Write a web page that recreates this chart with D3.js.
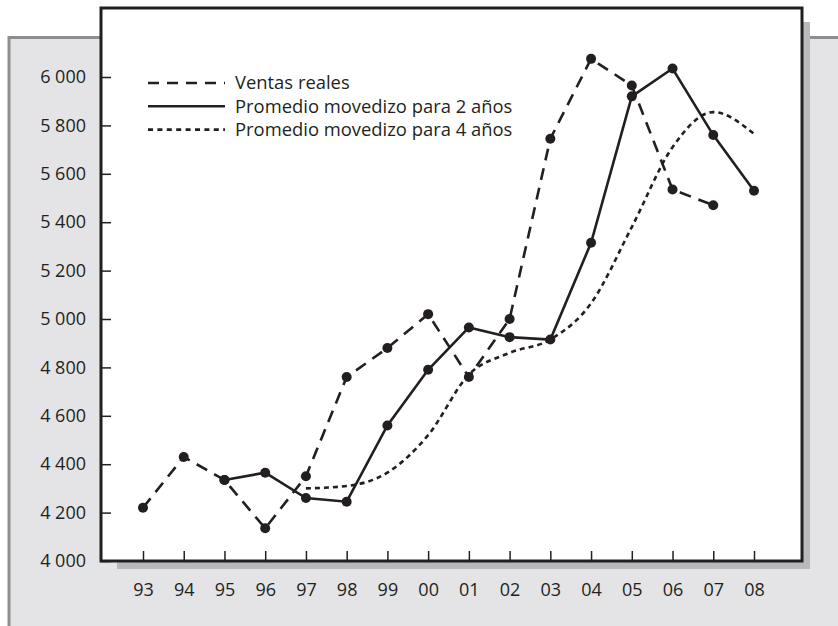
<!DOCTYPE html>
<html lang="es">
  <head>
    <meta charset="UTF-8" />
    <title>Ventas reales y promedios movedizos</title>
    <style>
      body {
        margin: 0;
        background: #ffffff;
      }
      svg text {
        font-family: "Open Sans", sans-serif;
        fill: #231f20;
      }
    </style>
  </head>
  <body>
    <div id="chart"></div>
    <script src="https://cdnjs.cloudflare.com/ajax/libs/d3/7.8.5/d3.min.js"></script>
    <script>
      // data
      var years = ["93", "94", "95", "96", "97", "98", "99", "00", "01", "02", "03", "04", "05", "06", "07", "08"];
      var ventas = [4220, 4430, 4335, 4135, 4350, 4760, 4880, 5020, 4760, 5000, 5745, 6075, 5965, 5535, 5470, null];
      var prom2 = [null, null, 4335, 4365, 4260, 4245, 4560, 4790, 4965, 4925, 4915, 5315, 5920, 6035, 5760, 5530];
      var prom4 = [null, null, null, null, 4300, 4310, 4365, 4520, 4770, 4860, 4915, 5065, 5380, 5710, 5855, 5765];
      var yTicks = [4000, 4200, 4400, 4600, 4800, 5000, 5200, 5400, 5600, 5800, 6000];
      var legendLabels = ["Ventas reales", "Promedio movedizo para 2 años", "Promedio movedizo para 4 años"];

      var width = 838,
        height = 626;
      var box = { left: 101, top: 8, right: 802, bottom: 561 };

      var svg = d3
        .select("#chart")
        .append("svg")
        .attr("width", width)
        .attr("height", height);

      // gray backdrop panel
      svg
        .append("rect")
        .attr("x", 9)
        .attr("y", 37.5)
        .attr("width", 840)
        .attr("height", 600)
        .attr("fill", "#e4e4e6")
        .attr("stroke", "#8e8e90")
        .attr("stroke-width", 3);

      // drop shadow of the plot box
      svg
        .append("rect")
        .attr("x", 117)
        .attr("y", 22)
        .attr("width", 810 - 117)
        .attr("height", 569 - 22)
        .attr("fill", "#b9b9bc");

      // white plot box
      svg
        .append("rect")
        .attr("x", box.left)
        .attr("y", box.top)
        .attr("width", box.right - box.left)
        .attr("height", box.bottom - box.top)
        .attr("fill", "#ffffff")
        .attr("stroke", "#231f20")
        .attr("stroke-width", 3);

      var x = d3.scalePoint().domain(years).range([143, 754]);
      var y = d3.scaleLinear().domain([4000, 6000]).range([box.bottom, 77]);

      var locale = d3.formatLocale({
        decimal: ",",
        thousands: " ",
        grouping: [3],
        currency: ["", ""],
      });

      var yAxis = svg
        .append("g")
        .attr("transform", "translate(" + box.left + ",0)")
        .call(
          d3
            .axisLeft(y)
            .tickValues(yTicks)
            .tickSize(-10)
            .tickPadding(15)
            .tickFormat(locale.format(",d"))
        );

      var xAxis = svg
        .append("g")
        .attr("transform", "translate(0," + box.bottom + ")")
        .call(d3.axisBottom(x).tickSize(-10).tickPadding(22));

      [yAxis, xAxis].forEach(function (ax) {
        ax.select(".domain").remove();
        ax.selectAll(".tick line").attr("stroke", "#231f20").attr("stroke-width", 1.5);
        ax.selectAll(".tick text").style("font-size", "18px").attr("fill", "#231f20");
      });

      function series(vals) {
        return years
          .map(function (yr, i) {
            return { year: yr, value: vals[i] };
          })
          .filter(function (d) {
            return d.value != null;
          });
      }

      var straight = d3
        .line()
        .x(function (d) {
          return x(d.year);
        })
        .y(function (d) {
          return y(d.value);
        });

      var smooth = d3
        .line()
        .curve(d3.curveMonotoneX)
        .x(function (d) {
          return x(d.year);
        })
        .y(function (d) {
          return y(d.value);
        });

      var lines = [
        { data: series(prom4), gen: smooth, dash: "5,4", dots: false },
        { data: series(prom2), gen: straight, dash: null, dots: true },
        { data: series(ventas), gen: straight, dash: "12,8", dots: true },
      ];

      lines.forEach(function (l) {
        svg
          .append("path")
          .datum(l.data)
          .attr("d", l.gen)
          .attr("fill", "none")
          .attr("stroke", "#231f20")
          .attr("stroke-width", 2.6)
          .attr("stroke-dasharray", l.dash);

        if (l.dots) {
          svg
            .append("g")
            .selectAll("circle")
            .data(l.data)
            .enter()
            .append("circle")
            .attr("cx", function (d) {
              return x(d.year);
            })
            .attr("cy", function (d) {
              return y(d.value);
            })
            .attr("r", 5)
            .attr("fill", "#231f20");
        }
      });

      // legend
      var legendDash = ["11,8", null, "5,4.4"];
      var legend = svg
        .append("g")
        .selectAll("g")
        .data(legendLabels)
        .enter()
        .append("g")
        .attr("transform", function (d, i) {
          return "translate(148," + (83 + i * 23.3) + ")";
        });

      legend
        .append("line")
        .attr("x1", 0)
        .attr("x2", 77)
        .attr("stroke", "#231f20")
        .attr("stroke-width", 2.6)
        .attr("stroke-dasharray", function (d, i) {
          return legendDash[i];
        });

      legend
        .append("text")
        .attr("x", 87)
        .attr("dy", "0.35em")
        .style("font-size", "18.4px")
        .text(function (d) {
          return d;
        });
    </script>
  </body>
</html>
